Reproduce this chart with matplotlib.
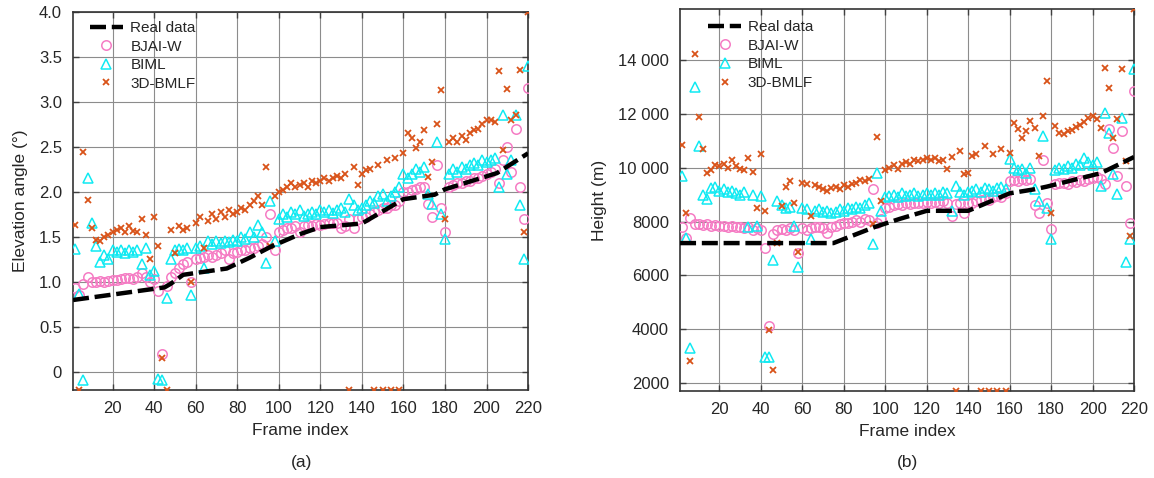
"""Elevation angle and height estimates per frame, two panels."""
import matplotlib
matplotlib.use("Agg")
import matplotlib.pyplot as plt                                    # noqa: E402
import numpy as np                                                 # noqa: E402
from matplotlib.ticker import FuncFormatter                        # noqa: E402

plt.rcParams["font.family"] = ["Liberation Sans", "DejaVu Sans"]

# scatter series are sampled at every second frame (2, 4, ..., 220)
FRAMES = np.arange(2, 221, 2)

# ---- panel (a): elevation angle (deg) ----
ELEV_REAL_FRAMES = [1, 45, 48, 54, 75, 86, 96, 110, 120, 140, 160, 175, 180, 205, 220]
ELEV_REAL = [0.80, 0.94, 0.98, 1.08, 1.15, 1.27, 1.39, 1.53, 1.61, 1.65, 1.92,
             1.97, 2.03, 2.21, 2.43]

ELEV_BJAI = [
    0.93, 0.85, 0.98, 1.05, 1.00, 1.00, 1.01, 1.00, 1.01, 1.02,
    1.02, 1.03, 1.04, 1.04, 1.03, 1.05, 1.10, 1.06, 1.00, 1.03,
    0.90, 0.20, 0.95, 1.05, 1.10, 1.15, 1.20, 1.22, 1.00, 1.25,
    1.27, 1.28, 1.30, 1.28, 1.30, 1.32, 1.35, 1.25, 1.32, 1.33,
    1.35, 1.36, 1.38, 1.38, 1.40, 1.42, 1.50, 1.75, 1.35, 1.55,
    1.58, 1.60, 1.60, 1.62, 1.55, 1.62, 1.63, 1.62, 1.64, 1.63,
    1.64, 1.65, 1.65, 1.66, 1.60, 1.62, 1.70, 1.60, 1.70, 1.72,
    1.72, 1.75, 1.78, 1.80, 1.82, 1.82, 1.85, 1.85, 1.90, 2.00,
    2.00, 2.02, 2.03, 2.05, 2.05, 1.87, 1.72, 2.30, 1.82, 1.55,
    2.05, 2.08, 2.10, 2.10, 2.12, 2.12, 2.15, 2.15, 2.18, 2.20,
    2.22, 2.25, 2.10, 2.35, 2.50, 2.22, 2.70, 2.05, 1.70, 3.15,
]
ELEV_BIML = [
    1.37, 0.87, -0.09, 2.15, 1.65, 1.40, 1.22, 1.30, 1.25, 1.35,
    1.33, 1.35, 1.32, 1.35, 1.33, 1.35, 1.20, 1.38, 1.08, 1.12,
    -0.08, -0.09, 0.82, 1.25, 1.35, 1.37, 1.35, 1.38, 0.86, 1.38,
    1.40, 1.16, 1.45, 1.42, 1.45, 1.43, 1.45, 1.44, 1.47, 1.46,
    1.50, 1.48, 1.55, 1.50, 1.63, 1.55, 1.21, 1.90, 1.45, 1.70,
    1.75, 1.72, 1.78, 1.75, 1.80, 1.73, 1.76, 1.78, 1.76, 1.80,
    1.78, 1.80, 1.77, 1.80, 1.82, 1.78, 1.92, 1.85, 1.80, 1.82,
    1.85, 1.90, 1.88, 1.95, 1.98, 1.90, 1.95, 2.00, 2.05, 2.20,
    2.15, 2.20, 2.25, 2.22, 2.28, 1.98, 1.87, 2.56, 1.75, 1.48,
    2.20, 2.25, 2.22, 2.28, 2.25, 2.30, 2.32, 2.30, 2.35, 2.33,
    2.35, 2.38, 2.06, 2.85, 2.20, 2.36, 2.85, 1.86, 1.25, 3.40,
]
ELEV_BMLF = [
    1.63, -0.20, 2.44, 1.91, 1.60, 1.47, 1.45, 1.50, 1.52, 1.55,
    1.58, 1.60, 1.55, 1.62, 1.57, 1.55, 1.70, 1.52, 1.25, 1.72,
    1.40, 0.16, -0.20, 1.58, 1.32, 1.62, 1.58, 1.60, 1.00, 1.65,
    1.72, 1.38, 1.68, 1.75, 1.70, 1.78, 1.72, 1.80, 1.75, 1.78,
    1.82, 1.80, 1.85, 1.90, 1.95, 1.85, 2.28, 1.40, 1.95, 2.00,
    2.02, 2.05, 2.10, 2.05, 2.08, 2.10, 2.05, 2.12, 2.10, 2.12,
    2.15, 2.12, 2.15, 2.18, 2.15, 2.20, -0.20, 2.28, 2.08, 2.20,
    2.24, 2.25, -0.20, 2.30, -0.20, 2.35, -0.20, 2.38, -0.20, 2.43,
    2.65, 2.60, 2.49, 2.55, 2.69, 2.17, 2.33, 2.76, 3.13, 1.70,
    2.55, 2.60, 2.55, 2.62, 2.58, 2.65, 2.69, 2.70, 2.76, 2.80,
    2.80, 2.78, 3.34, 2.47, 3.14, 2.80, 2.86, 3.36, 1.55, 4.00,
]

# ---- panel (b): height (m) ----
HGT_REAL_FRAMES = [1, 75, 95, 107, 120, 140, 160, 172, 178, 204, 220]
HGT_REAL = [7200, 7200, 7800, 8100, 8400, 8400, 9050, 9200, 9300, 9800, 10400]

HGT_BJAI = [
    7780, 7400, 8150, 7900, 7920, 7880, 7900, 7850, 7880, 7850,
    7850, 7800, 7820, 7800, 7780, 7750, 7800, 7700, 7750, 7700,
    7000, 4100, 7550, 7700, 7720, 7700, 7750, 7700, 6820, 7750,
    7700, 7750, 7800, 7780, 7750, 7560, 7800, 7850, 7900, 7950,
    7950, 8000, 8050, 8000, 8100, 8050, 9200, 7950, 8100, 8500,
    8550, 8600, 8650, 8600, 8700, 8650, 8700, 8680, 8700, 8720,
    8700, 8720, 8700, 8750, 8700, 8220, 8650, 8700, 8300, 8680,
    8700, 8750, 8800, 8850, 8800, 8900, 8950, 8900, 9050, 9500,
    9550, 9500, 9600, 9550, 9600, 8600, 8330, 10300, 8700, 7740,
    9400, 9420, 9450, 9400, 9500, 9480, 9550, 9500, 9600, 9620,
    9650, 9600, 9400, 11440, 10740, 9700, 11370, 9330, 7960, 12850,
]
HGT_BIML = [
    9700, 7400, 3300, 13000, 10820, 9000, 8850, 9260, 9300, 9150,
    9200, 9100, 9150, 9050, 9000, 9100, 7780, 9000, 7850, 8950,
    2960, 2960, 6560, 8780, 8600, 8500, 8550, 7850, 6300, 8500,
    8450, 7370, 8400, 8450, 8350, 8400, 8300, 8350, 8450, 8400,
    8500, 8450, 8550, 8500, 8600, 8700, 7180, 9820, 8400, 8900,
    8950, 9000, 8900, 9050, 8950, 9000, 9050, 8950, 9000, 9050,
    9000, 9050, 9000, 9100, 9050, 8410, 9330, 9100, 9000, 9100,
    9150, 9200, 9100, 9250, 9200, 9150, 9250, 9300, 9200, 10330,
    10000, 9900, 9950, 9800, 10000, 9220, 8780, 11190, 8520, 7370,
    9900, 10000, 9950, 10050, 10000, 10150, 10100, 10370, 10200, 10100,
    10200, 9330, 12040, 11300, 9780, 9040, 11850, 6480, 7370, 13670,
]
HGT_BMLF = [
    10850, 8330, 2820, 14220, 11890, 10700, 9800, 9900, 10100, 10050,
    10150, 10000, 10300, 10050, 9950, 9900, 10370, 9850, 8520, 10520,
    8410, 3960, 2480, 7190, 8590, 9300, 9500, 8700, 6850, 9450,
    9400, 8220, 9350, 9300, 9200, 9150, 9250, 9300, 9200, 9350,
    9300, 9400, 9450, 9550, 9500, 9600, 7900, 11150, 8780, 9900,
    10000, 10100, 9950, 10150, 10200, 10150, 10300, 10250, 10300, 10350,
    10300, 10350, 10250, 10300, 9960, 10400, 1700, 10630, 9780, 9800,
    10440, 10500, 1700, 10820, 1700, 10500, 1700, 10700, 1700, 10550,
    11660, 11440, 11110, 11370, 11740, 11480, 10440, 11930, 13220, 8300,
    11560, 11300, 11260, 11350, 11400, 11500, 11600, 11700, 11850, 11930,
    11800, 11480, 13700, 12960, 11110, 11820, 13670, 10260, 7480, 15900,
]

PINK = "#F57CC4"
CYAN = "#10EAF2"
ORANGE = "#D95319"
TXT = "#262626"


def draw_panel(ax, real_x, real_y, bjai, biml, bmlf, leg_anchor, textpad):
    ax.plot(FRAMES, bjai, ls="none", marker="o", ms=6.8, mfc="none",
            mec=PINK, mew=1.1, label="BJAI-W", zorder=3)
    ax.plot(FRAMES, biml, ls="none", marker="^", ms=7.2, mfc="none",
            mec=CYAN, mew=1.1, label="BIML", zorder=4)
    ax.plot(FRAMES, bmlf, ls="none", marker="x", ms=4.6, mec=ORANGE,
            mew=1.3, label="3D-BMLF", zorder=5)
    ax.plot(real_x, real_y, color="black", lw=3.2, dashes=(3.6, 1.3),
            label="Real data", zorder=6)
    ax.set_xlim(1, 220)
    ax.set_xticks(range(20, 221, 20))
    ax.grid(True, color="0.55", lw=0.8, zorder=0)
    ax.set_axisbelow(True)
    ax.tick_params(direction="in", top=True, right=True, length=4,
                   width=1, color="0.25", labelsize=12, labelcolor=TXT, pad=8)
    for sp in ax.spines.values():
        sp.set_color("0.2")
        sp.set_linewidth(1.2)
    ax.set_xlabel("Frame index", fontsize=12.5, color=TXT, labelpad=5)
    h, lab = ax.get_legend_handles_labels()
    order = [3, 0, 1, 2]
    ax.legend([h[i] for i in order], [lab[i] for i in order], loc="upper left",
              bbox_to_anchor=leg_anchor, frameon=False, fontsize=11,
              numpoints=1, handlelength=2.15, handletextpad=textpad,
              labelspacing=0.3, borderaxespad=0, borderpad=0, labelcolor=TXT)


fig = plt.figure(figsize=(11.54, 4.78), dpi=100)
ax_a = fig.add_axes([0.0633, 0.1841, 0.3943, 0.7908])
ax_b = fig.add_axes([0.5893, 0.1820, 0.3934, 0.7990])

draw_panel(ax_a, ELEV_REAL_FRAMES, ELEV_REAL, ELEV_BJAI, ELEV_BIML, ELEV_BMLF,
           (0.037, 0.976), 0.5)
ax_a.set_ylim(-0.2, 4.0)
ax_a.set_yticks(np.arange(0, 4.01, 0.5))
ax_a.yaxis.set_major_formatter(FuncFormatter(
    lambda v, _: "0" if abs(v) < 1e-9 else f"{v:.1f}"))
ax_a.set_ylabel("Elevation angle (°)", fontsize=12.5, color=TXT, labelpad=8)

draw_panel(ax_b, HGT_REAL_FRAMES, HGT_REAL, HGT_BJAI, HGT_BIML, HGT_BMLF,
           (0.062, 0.971), 0.45)
ax_b.set_ylim(1700, 15900)
ax_b.set_yticks(range(2000, 14001, 2000))
ax_b.yaxis.set_major_formatter(FuncFormatter(
    lambda v, _: f"{int(v):,}".replace(",", " ") if v >= 10000 else f"{int(v)}"))
ax_b.set_ylabel("Height (m)", fontsize=12.5, color=TXT, labelpad=8)

fig.text(0.261, 0.033, "(a)", ha="center", va="center", fontsize=12.5, color=TXT)
fig.text(0.786, 0.033, "(b)", ha="center", va="center", fontsize=12.5, color=TXT)

fig.savefig("out.png", dpi=100)
